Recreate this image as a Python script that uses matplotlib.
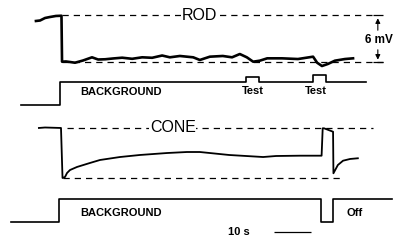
import matplotlib.pyplot as plt

# rod response: time (s) and membrane potential change (mV)
rod_t = [-6.5, -5.4, -4.05, -2.7, -1.1, 0.4, 0.55, 1.6, 2.7, 4.05, 6.2, 8.65, 10.3, 12.2, 14.3,
         16.8, 19.5, 22.2, 24.9, 27.6, 29.7, 32.4, 36.0, 37.8, 40.5, 44.0, 46.5, 48.6, 50.5,
         52.2, 54.0, 56.0, 60.0, 64.3, 68.4, 69.5, 70.8, 72.4, 74.3, 77.0, 79.2]
rod_v = [-0.70, -0.64, -0.32, -0.19, -0.06, -0.03, -5.90, -5.87, -5.94, -6.03, -5.75, -5.34,
         -5.62, -5.59, -5.49, -5.39, -5.53, -5.34, -5.40, -5.11, -5.34, -5.17, -5.34, -5.68,
         -5.26, -5.17, -5.34, -4.92, -5.34, -5.90, -5.77, -5.47, -5.47, -5.56, -5.26, -6.03,
         -6.45, -6.19, -5.77, -5.56, -5.47]

# cone response
cone_t = [-5.7, -4.05, 0.27, 0.68, 1.35, 1.9, 2.7, 4.6, 8.1, 10.8, 16.2, 21.6, 28.9, 34.3,
          37.8, 45.7, 54.9, 58.4, 64.9, 70.7, 71.0, 71.35, 73.8, 73.9, 75.1, 76.5, 78.4, 80.5]
cone_v = [-0.06, 0.0, -0.06, -6.45, -6.32, -5.81, -5.43, -5.04, -4.53, -4.15, -3.77, -3.51,
          -3.26, -3.13, -3.13, -3.51, -3.77, -3.64, -3.60, -3.60, -0.10, -0.10, -0.54, -5.85,
          -4.79, -4.24, -4.02, -3.93]

# stimulus timing (s) and relative light level (0 dark, 1 background)
rod_stim_t = [-10.5, 0.0, 50.3, 53.8, 68.4, 71.9, 82.7]
rod_stim_lvl = [0, 1, 1.22, 1, 1.3, 1, 1]
cone_stim_t = [-13.2, -0.2, 70.5, 73.8, 89.7]
cone_stim_lvl = [0, 1, 0, 1, 1]

PX_S = 3.7          # px per second
X0 = 60             # px of t=0
PX_MV = 7.83        # px per mV
ROD_Y, CONE_Y = 15.5, 127.5
ROD_STIM_Y, CONE_STIM_Y = 105, 221.5
STIM_H = 23

fig = plt.figure(figsize=(3.96, 2.45), dpi=100)
ax = fig.add_axes([0, 0, 1, 1])
ax.set_xlim(-X0 / PX_S, (396 - X0) / PX_S)
ax.set_ylim(245, 0)
ax.axis('off')

dash = (0, (5, 4))
ax.hlines([ROD_Y, ROD_Y + 6 * PX_MV], [0.54, 0.54], [85.4, 87.3], colors='k', lw=0.9, linestyles=dash)
ax.hlines([CONE_Y, CONE_Y + 6.5 * PX_MV], [1.9, 0.8], [84.6, 76.5], colors='k', lw=0.9, linestyles=dash)

ax.plot(rod_t, [ROD_Y - v * PX_MV for v in rod_v], color='k', lw=1.9)
ax.plot(cone_t, [CONE_Y - v * PX_MV for v in cone_v], color='k', lw=1.3)

ax.step(rod_stim_t, [ROD_STIM_Y - l * STIM_H for l in rod_stim_lvl], where='post', color='k', lw=1.2)
ax.step(cone_stim_t, [CONE_STIM_Y - l * STIM_H for l in cone_stim_lvl], where='post', color='k', lw=1.2)

lab = dict(family='Liberation Sans', fontsize=11.5, ha='center', va='center',
           bbox=dict(facecolor='white', edgecolor='none', pad=0.5))
ax.text(37.6, ROD_Y, 'ROD', **lab)
ax.text(30.5, CONE_Y, 'CONE', **lab)

bold = dict(family='Liberation Sans', fontweight='bold', fontsize=8, va='center')
ax.text(5.6, 92, 'BACKGROUND', **bold)
ax.text(5.6, 213, 'BACKGROUND', **bold)
ax.text(52.1, 91, 'Test', ha='center', **bold)
ax.text(69.2, 91, 'Test', ha='center', **bold)
ax.text(77.3, 213, 'Off', **bold)
ax.text(45.4, 232, '10 s', **bold)
ax.hlines(232, 57.8, 67.8, colors='k', lw=0.9)

# 6 mV calibration bar
xs = 85.9
ax.hlines([ROD_Y, ROD_Y + 6 * PX_MV], 84.6, 87.3, colors='k', lw=0.9)
ax.annotate('', xy=(xs, ROD_Y), xytext=(xs, 33),
            arrowprops=dict(arrowstyle='-|>', color='k', lw=0.8, mutation_scale=7))
ax.annotate('', xy=(xs, ROD_Y + 6 * PX_MV), xytext=(xs, 47),
            arrowprops=dict(arrowstyle='-|>', color='k', lw=0.8, mutation_scale=7))
ax.text(82.3, 40, '6 mV', family='Liberation Sans', fontweight='bold', fontsize=8.5, va='center')

fig.savefig('out.png', dpi=100)
